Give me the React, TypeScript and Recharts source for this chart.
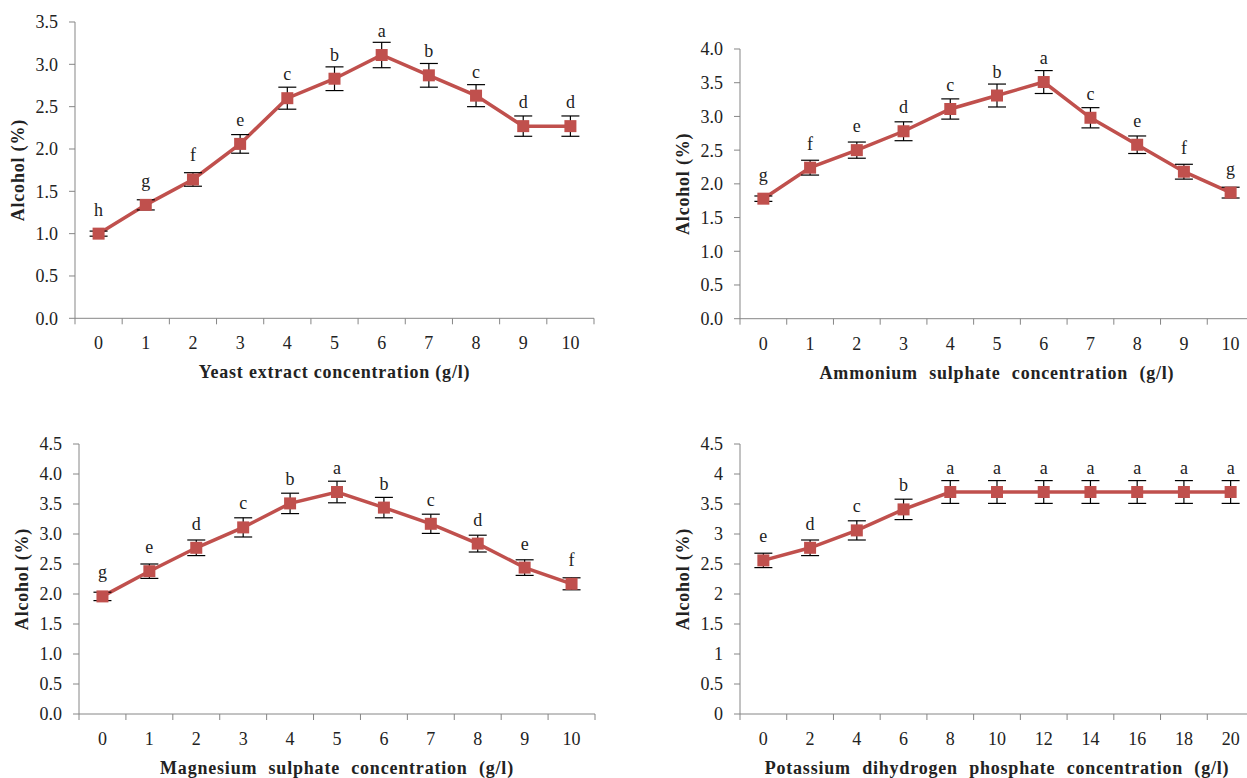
import React from 'react';
import { LineChart, Line, XAxis, YAxis, ErrorBar, LabelList, Label } from 'recharts';

const RED = '#C0504D';
const AXIS = '#868686';
const INK = '#222222';
const FONT = '"Liberation Serif", "Times New Roman", serif';

// yeast extract
const yeastDose = [0, 1, 2, 3, 4, 5, 6, 7, 8, 9, 10];
const yeastAlcohol = [1.0, 1.34, 1.64, 2.06, 2.6, 2.83, 3.11, 2.87, 2.63, 2.27, 2.27];
const yeastErr = [0.03, 0.06, 0.08, 0.11, 0.13, 0.14, 0.15, 0.14, 0.13, 0.12, 0.12];
const yeastLetters = ['h', 'g', 'f', 'e', 'c', 'b', 'a', 'b', 'c', 'd', 'd'];
const yeastTicks = [0, 0.5, 1, 1.5, 2, 2.5, 3, 3.5];

// ammonium sulphate
const ammDose = [0, 1, 2, 3, 4, 5, 6, 7, 8, 9, 10];
const ammAlcohol = [1.78, 2.24, 2.5, 2.78, 3.11, 3.31, 3.51, 2.98, 2.58, 2.18, 1.87];
const ammErr = [0.04, 0.11, 0.12, 0.14, 0.15, 0.17, 0.17, 0.15, 0.13, 0.11, 0.08];
const ammLetters = ['g', 'f', 'e', 'd', 'c', 'b', 'a', 'c', 'e', 'f', 'g'];
const ammTicks = [0, 0.5, 1, 1.5, 2, 2.5, 3, 3.5, 4];

// magnesium sulphate
const mgDose = [0, 1, 2, 3, 4, 5, 6, 7, 8, 9, 10];
const mgAlcohol = [1.96, 2.38, 2.77, 3.11, 3.51, 3.7, 3.44, 3.17, 2.84, 2.44, 2.17];
const mgErr = [0.07, 0.12, 0.13, 0.16, 0.17, 0.18, 0.17, 0.16, 0.14, 0.13, 0.1];
const mgLetters = ['g', 'e', 'd', 'c', 'b', 'a', 'b', 'c', 'd', 'e', 'f'];
const mgTicks = [0, 0.5, 1, 1.5, 2, 2.5, 3, 3.5, 4, 4.5];

// potassium dihydrogen phosphate
const kDose = [0, 2, 4, 6, 8, 10, 12, 14, 16, 18, 20];
const kAlcohol = [2.56, 2.77, 3.06, 3.41, 3.7, 3.7, 3.7, 3.7, 3.7, 3.7, 3.7];
const kErr = [0.12, 0.13, 0.16, 0.17, 0.19, 0.19, 0.19, 0.19, 0.19, 0.19, 0.19];
const kLetters = ['e', 'd', 'c', 'b', 'a', 'a', 'a', 'a', 'a', 'a', 'a'];
const kTicks = [0, 0.5, 1, 1.5, 2, 2.5, 3, 3.5, 4, 4.5];

const Y_W = 80;
const X_H = 75;
const TOP = 22;
const RIGHT = 10;

function SquareDot(props: any) {
  const { cx, cy, index } = props;
  if (cx == null || cy == null) return <g key={index} />;
  return <rect key={index} x={cx - 6} y={cy - 6} width={12} height={12} fill={RED} />;
}

function Panel({ px, py, pw, ph, dose, values, errs, letters, yTicks, fixed, title, wordSpacing }: any) {
  const step = dose[1] - dose[0];
  const edges = [...dose.map((d: number) => d - step / 2), dose[dose.length - 1] + step / 2];
  const data = dose.map((d: number, i: number) => ({ x: d, v: values[i], e: errs[i], l: letters[i] }));

  const XTick = (p: any) => {
    const { x, y, payload } = p;
    if (edges.includes(payload.value)) {
      return <line x1={x} x2={x} y1={y} y2={y + 6} stroke={AXIS} strokeWidth={1} />;
    }
    return (
      <text x={x} y={y + 25} textAnchor="middle" dominantBaseline="central" fill={INK} fontSize={18} fontFamily={FONT}>
        {payload.value}
      </text>
    );
  };

  return (
    <div style={{ position: 'absolute', left: px - Y_W, top: py - TOP }}>
      <LineChart
        width={Y_W + pw + RIGHT}
        height={TOP + ph + X_H}
        data={data}
        margin={{ top: TOP, right: RIGHT, bottom: 0, left: 0 }}
      >
        <XAxis
          dataKey="x"
          type="number"
          domain={[edges[0], edges[edges.length - 1]]}
          ticks={[...edges, ...dose].sort((a, b) => a - b)}
          interval={0}
          height={X_H}
          stroke={AXIS}
          tickLine={false}
          tickSize={0}
          tickMargin={0}
          tick={XTick}
          allowDataOverflow
          label={
            <Label
              content={() => (
                <text
                  x={Y_W + pw / 2}
                  y={TOP + ph + 54}
                  textAnchor="middle"
                  dominantBaseline="central"
                  fill={INK}
                  fontSize={18}
                  fontWeight="bold"
                  fontFamily={FONT}
                  style={{ letterSpacing: 0.8, wordSpacing }}
                >
                  {title}
                </text>
              )}
            />
          }
        />
        <YAxis
          type="number"
          width={Y_W}
          domain={[0, yTicks[yTicks.length - 1]]}
          ticks={yTicks}
          interval={0}
          stroke={AXIS}
          tickSize={6}
          tickMargin={11}
          tick={{ fill: INK, fontSize: 18, fontFamily: FONT }}
          tickFormatter={(v: number) => (fixed ? v.toFixed(1) : String(v))}
          label={
            <Label
              content={() => {
                const cx = Y_W - 57;
                const cy = TOP + ph / 2;
                return (
                  <text
                    x={cx}
                    y={cy}
                    transform={`rotate(-90 ${cx} ${cy})`}
                    textAnchor="middle"
                    dominantBaseline="central"
                    fill={INK}
                    fontSize={18}
                    fontWeight="bold"
                    fontFamily={FONT}
                    style={{ letterSpacing: 0.8 }}
                  >
                    Alcohol (%)
                  </text>
                );
              }}
            />
          }
        />
        <Line
          dataKey="v"
          stroke={RED}
          strokeWidth={3.5}
          dot={false}
          activeDot={false}
          isAnimationActive={false}
          zIndex={300}
        >
          <ErrorBar
            dataKey="e"
            direction="y"
            width={9}
            stroke="#000"
            strokeWidth={1.2}
            isAnimationActive={false}
            zIndex={350}
          />
          <LabelList dataKey="l" position="top" offset={18} fill={INK} fontSize={18} fontFamily={FONT} />
        </Line>
        {/* markers drawn last so they sit on top of the error bars */}
        <Line
          dataKey="v"
          stroke="none"
          dot={SquareDot}
          activeDot={false}
          legendType="none"
          isAnimationActive={false}
          zIndex={700}
        />
      </LineChart>
    </div>
  );
}

export default function App() {
  return (
    <div
      style={{
        position: 'absolute',
        left: 0,
        top: 0,
        width: 1247,
        height: 778,
        overflow: 'hidden',
        background: '#fff',
      }}
    >
      <Panel
        px={75}
        py={21.7}
        pw={519}
        ph={296.3}
        dose={yeastDose}
        values={yeastAlcohol}
        errs={yeastErr}
        letters={yeastLetters}
        yTicks={yeastTicks}
        fixed
        title="Yeast extract concentration (g/l)"
        wordSpacing={0}
      />
      <Panel
        px={740}
        py={49.3}
        pw={514}
        ph={269.7}
        dose={ammDose}
        values={ammAlcohol}
        errs={ammErr}
        letters={ammLetters}
        yTicks={ammTicks}
        fixed
        title="Ammonium sulphate concentration (g/l)"
        wordSpacing={6}
      />
      <Panel
        px={79}
        py={444}
        pw={516}
        ph={270}
        dose={mgDose}
        values={mgAlcohol}
        errs={mgErr}
        letters={mgLetters}
        yTicks={mgTicks}
        fixed
        title="Magnesium sulphate concentration (g/l)"
        wordSpacing={6}
      />
      <Panel
        px={740}
        py={444}
        pw={514}
        ph={270}
        dose={kDose}
        values={kAlcohol}
        errs={kErr}
        letters={kLetters}
        yTicks={kTicks}
        fixed={false}
        title="Potassium dihydrogen phosphate concentration (g/l)"
        wordSpacing={6}
      />
    </div>
  );
}
